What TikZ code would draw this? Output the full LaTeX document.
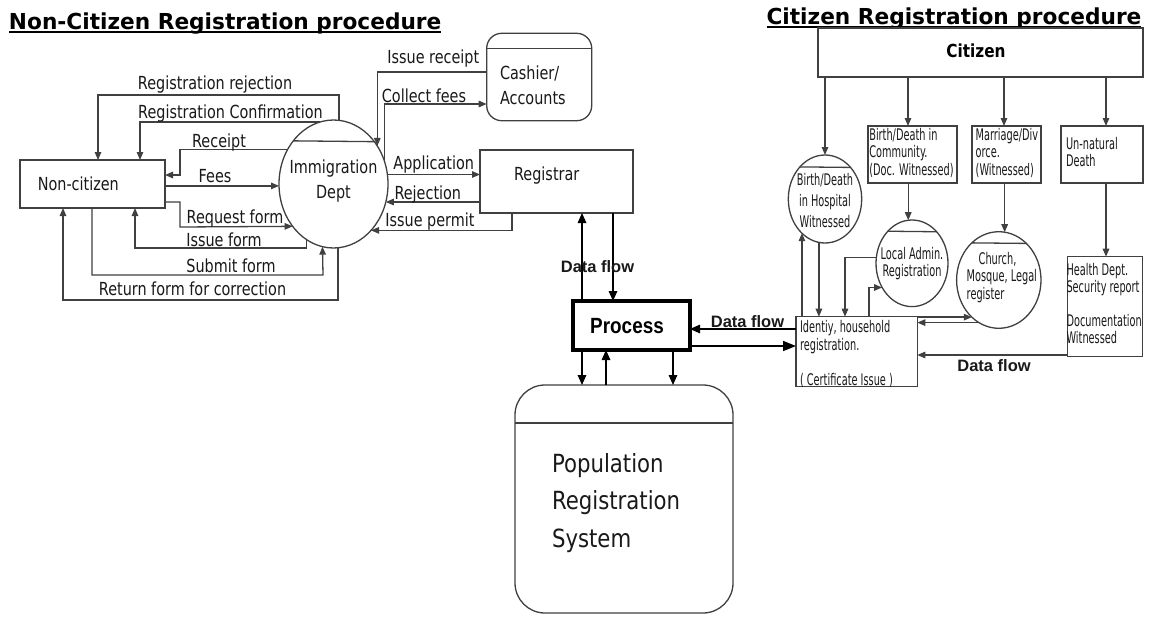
\documentclass[tikz,border=0pt]{standalone}
\usepackage{fontspec}
\usetikzlibrary{arrows.meta,shapes.geometric}

% Fonts: condensed sans for the flow labels, bold for headings
\newfontfamily\lblfont[FakeStretch=0.8]{DejaVu Sans}
\newfontfamily\smlfont[FakeStretch=0.61]{DejaVu Sans}
\newfontfamily\popfont[FakeStretch=0.85]{DejaVu Sans}
\newfontfamily\headfont[FakeStretch=0.985]{DejaVu Sans}
\newfontfamily\citfont[FakeStretch=0.85]{DejaVu Sans}
\newfontfamily\procfont[FakeStretch=0.86]{Liberation Sans}
\newfontfamily\flowfont{Liberation Sans}

% Stacked lines whose reference point is the first baseline
\newcommand\lstack[1]{\vtop{\halign{##\hfil\cr#1\crcr}}}
\newcommand\cstack[1]{\vtop{\halign{\hfil##\hfil\cr#1\crcr}}}

\begin{document}
\begin{tikzpicture}[x=1pt,y=-1pt,
  ln/.style={draw=black!75, line width=1.3pt},
  arr/.style={ln, -{Triangle[length=8pt,width=6.5pt]}},
  darr/.style={draw=black, line width=1.6pt, -{Triangle[length=10pt,width=8.5pt]}},
  bigarr/.style={draw=black, line width=1.6pt, -{Triangle[length=13pt,width=10pt]}},
  shp/.style={draw=black!75, line width=1.3pt, inner sep=0pt, outer sep=0pt},
  oval/.style={shp, ellipse},
  rbox/.style={shp, rectangle},
  txt/.style={inner sep=0pt, outer sep=0pt, text=black!90},
  lbl/.style={txt, anchor=base, font=\lblfont\fontsize{18}{25}\selectfont},
  sml/.style={txt, anchor=base west, font=\smlfont\fontsize{16}{17.5}\selectfont},
  smlc/.style={txt, anchor=base, font=\smlfont\fontsize{16}{17}\selectfont},
  flowlbl/.style={txt, anchor=base, font=\flowfont\bfseries\fontsize{16.5}{20}\selectfont},
  head/.style={txt, anchor=base west, text=black, font=\headfont\bfseries\fontsize{22}{26}\selectfont}
]
\useasboundingbox[fill=white] (0,0) rectangle (1156,616);

% ---------- headings ----------
\node[head] (ttlA) at (9,29) {Non-Citizen Registration procedure};
\draw[line width=2pt] ([yshift=-3pt]ttlA.base west) -- ([yshift=-3pt]ttlA.base east);
\node[head] (ttlB) at (766.5,24) {Citizen Registration procedure};
\draw[line width=2pt] ([yshift=-3pt]ttlB.base west) -- ([yshift=-3pt]ttlB.base east);

% ---------- non-citizen side ----------
\node[rbox, minimum width=145pt, minimum height=48pt] (nc) at (92.5,184) {};
\node[lbl] (nct) at (78.3,190.3) {Non-citizen};

\node[oval, minimum width=109pt, minimum height=128pt] (imm) at (333.5,184) {};
\draw[ln] (imm.133.2) -- (imm.46.8);
\node[lbl] (immt) at (333.5,173) {\cstack{Immigration\cr Dept}};

\node[rbox, rounded corners=15pt, minimum width=105pt, minimum height=87.4pt] (cash) at (539.2,77) {};
\draw[ln] (cash.west |- 0,48.3) -- (cash.east |- 0,48.3);
\node[lbl, anchor=base west] (casht) at (500,79.3) {\lstack{Cashier/\cr Accounts}};

\node[rbox, minimum width=153pt, minimum height=63pt] (reg) at (556.5,181.5) {};
\node[lbl] (regt) at (546.7,180) {Registrar};

% flows between non-citizen and immigration
\draw[arr] (imm.85.1) |- (98,95) -- (nc.north -| 98,0);
\node[lbl] (l1) at (215,89.3) {Registration rejection};
\draw[arr] (imm.102.3) -| (nc.north -| 140,0);
\node[lbl] (l2) at (230.5,118.3) {Registration Confirmation};
\draw[arr] (imm.143.6) -| (180,175) -- (nc.east |- 0,175);
\node[lbl] (l3) at (219,147) {Receipt};
\draw[arr] (nc.east |- imm.182.1) -- (imm.182.1);
\node[lbl] (l4) at (215,182.7) {Fees};
\draw[arr] (nc.east |- 0,202) -| (180,227) -- (imm.226.8);
\node[lbl] (l5) at (235,223.3) {Request form};
\draw[arr] (imm.244.6) |- (135,248) -- (nc.south -| 135,0);
\node[lbl] (l6) at (224,246) {Issue form};
\draw[arr] (nc.south -| 92,0) |- (323,275) -- (imm.260.5);
\node[lbl] (l7) at (231,272.7) {Submit form};
\draw[arr] (imm.274.9) |- (63,300) -- (nc.south -| 63,0);
\node[lbl] (l8) at (192.5,295.3) {Return form for correction};

% flows between immigration, cashier and registrar
\draw[arr] (cash.west |- 0,72) -| (imm.41.6);
\node[lbl] (l9) at (433.3,63.7) {Issue receipt};
\draw[arr] (imm.25.5) |- (cash.west |- 0,104);
\node[lbl] (l10) at (424,102) {Collect fees};
\draw[arr] (imm.10.5) -- (reg.west |- imm.10.5);
\node[lbl] (l11) at (433.7,169.3) {Application};
\draw[arr] (reg.west |- imm.341) -- (imm.341);
\node[lbl] (l12) at (427.8,199.3) {Rejection};
\draw[arr] (reg.south -| 512,0) |- (imm.309.5);
\node[lbl] (l13) at (430,226) {Issue permit};

% ---------- central process and store ----------
\node[draw=black, line width=3.5pt, inner sep=0pt, outer sep=0pt,
      minimum width=117pt, minimum height=49pt] (proc) at (631.5,325.5) {};
\node[txt, anchor=base, text=black, font=\procfont\bfseries\fontsize{22}{26}\selectfont] (proct) at (627,333) {Process};

\node[rbox, rounded corners=30pt, minimum width=218pt, minimum height=228pt] (pop) at (624,499) {};
\draw[ln] (pop.west |- 0,423) -- (pop.east |- 0,423);
\node[txt, anchor=base west, font=\popfont\fontsize{25}{37.5}\selectfont] (popt) at (552,472)
  {\lstack{Population\cr Registration\cr System}};

\draw[darr] (proc.north -| 582,0) -- (reg.south -| 582,0);
\draw[darr] (reg.south -| 613,0) -- (proc.north -| 613,0);
\node[flowlbl] (f1) at (597.5,272.7) {Data flow};

\draw[darr] (proc.south -| 582,0) -- (pop.north -| 582,0);
\draw[darr] (pop.north -| 606,0) -- (proc.south -| 606,0);
\draw[darr] (proc.south -| 673,0) -- (pop.north -| 673,0);

% ---------- citizen side ----------
\node[rbox, minimum width=325pt, minimum height=49pt] (cit) at (980.5,52.5) {};
\node[txt, anchor=base, text=black, font=\citfont\bfseries\fontsize{18}{22}\selectfont] (citt) at (976,57.5) {Citizen};

\node[oval, minimum width=73.4pt, minimum height=88pt] (hosp) at (825,199) {};
\draw[ln] (hosp.128.2) -- (hosp.51.8);
\node[txt, anchor=base, font=\smlfont\fontsize{16}{21}\selectfont] (hospt) at (825,185.7)
  {\cstack{Birth/Death\cr in Hospital\cr Witnessed}};

\node[rbox, minimum width=89pt, minimum height=57pt] (comm) at (912.5,154.5) {};
\node[sml] (commt) at (869.3,140) {\lstack{Birth/Death in\cr Community.\cr (Doc. Witnessed)}};

\node[rbox, minimum width=69pt, minimum height=57pt] (marr) at (1006.5,154.5) {};
\node[sml] (marrt) at (975.7,140) {\lstack{Marriage/Div\cr orce.\cr (Witnessed)}};

\node[rbox, minimum width=82pt, minimum height=57pt] (unat) at (1102,154.5) {};
\node[sml] (unatt) at (1066,149) {\lstack{Un-natural\cr Death}};

\node[oval, minimum width=72pt, minimum height=86.6pt] (loc) at (912,263.3) {};
\draw[ln] (loc.127.9) -- (loc.52.1);
\node[smlc] (loct) at (912,259) {\cstack{Local Admin.\cr Registration}};

\node[oval, minimum width=84.4pt, minimum height=96.6pt] (ch) at (998.8,280) {};
\draw[ln] (ch.126.7) -- (ch.53.3);
\node[sml] (cht) at (966.7,264) {\lstack{\hskip12pt Church,\cr Mosque, Legal\cr register}};

\node[rbox, minimum width=75pt, minimum height=100pt] (hlth) at (1104.8,306.7) {};
\node[sml, font=\smlfont\fontsize{16}{17}\selectfont] (hltht) at (1066.5,275)
  {\lstack{Health Dept.\cr Security report\cr \cr Documentation\cr Witnessed}};

\node[rbox, minimum width=121.3pt, minimum height=70pt] (ident) at (856.65,351.7) {};
\node[sml] (identt) at (800,332.7)
  {\lstack{Identiy, household\cr registration.\cr \cr ( Certificate Issue )}};

% citizen flows
\draw[arr] (cit.south -| hosp.north) -- (hosp.north);
\draw[arr] (cit.south -| 908,0) -- (comm.north -| 908,0);
\draw[arr] (cit.south -| 1004,0) -- (marr.north -| 1004,0);
\draw[arr] (cit.south -| 1106,0) -- (unat.north -| 1106,0);

\draw[arr] (comm.south -| loc.95.3) -- (loc.95.3);
\draw[arr] (marr.south -| ch.83.8) -- (ch.83.8);
\draw[arr] (unat.south -| 1106,0) -- (hlth.north -| 1106,0);

\draw[arr] (hosp.262.1) -- (ident.north -| hosp.262.1);
\draw[arr] (ident.north -| hosp.236.2) -- (hosp.236.2);
\draw[arr] (loc.171.6) -| (ident.north -| 845,0);
\draw[arr] (ident.north -| 869,0) |- (loc.219.8);
\draw[arr] (ident.east |- ch.234.6) -- (ch.234.6);
\draw[arr] (ch.245.9) -- (ident.east |- ch.245.9);
\draw[arr] (hlth.west |- 0,355) -- (ident.east |- 0,355);
\node[flowlbl] (f3) at (994,371) {Data flow};

% identity registration <-> process
\draw[darr] (ident.west |- 0,329) -- (proc.east |- 0,329);
\node[flowlbl] (f2) at (747.5,327) {Data flow};
\draw[bigarr] (proc.east |- 0,346) -- (ident.west |- 0,346);
\end{tikzpicture}
\end{document}
